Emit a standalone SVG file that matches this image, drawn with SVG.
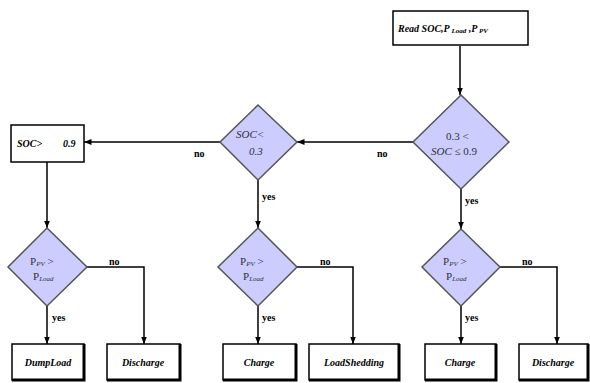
<svg xmlns="http://www.w3.org/2000/svg" width="590" height="383" viewBox="0 0 590 383">
<style>
.box{fill:#fff;stroke:#000;stroke-width:1.5}
.sh{fill:none;stroke:#000;stroke-width:3}
.dia{fill:#ccccff;stroke:#555;stroke-width:1.5}
.ln{fill:none;stroke:#000;stroke-width:1.5}
.lb{font-family:"Liberation Serif","DejaVu Serif",serif;font-weight:bold;font-size:10px;fill:#000}
.bt{font-family:"Liberation Serif","DejaVu Serif",serif;font-weight:bold;font-style:italic;font-size:10px;fill:#000}
.dt{font-family:"Liberation Serif","DejaVu Serif",serif;font-size:11px;fill:#333}
.sub{font-size:7px;font-style:italic}
</style>
<defs>
<marker id="ar" viewBox="0 0 10 10" refX="10" refY="5" markerWidth="5" markerHeight="5" orient="auto">
<path d="M0,1 L10,5 L0,9 Z" fill="#000"/>
</marker>
</defs>
<g id="connectors">
<path class="ln" d="M460,46 V95" marker-end="url(#ar)"/>
<path class="ln" d="M413,142 H297" marker-end="url(#ar)"/>
<path class="ln" d="M220,142 H84" marker-end="url(#ar)"/>
<path class="ln" d="M461,189 V229" marker-end="url(#ar)"/>
<path class="ln" d="M258,180 V228" marker-end="url(#ar)"/>
<path class="ln" d="M47,162 V228" marker-end="url(#ar)"/>
<path class="ln" d="M47,306 V344" marker-end="url(#ar)"/>
<path class="ln" d="M87,267 H144 V344" marker-end="url(#ar)"/>
<path class="ln" d="M258,306 V344" marker-end="url(#ar)"/>
<path class="ln" d="M297,267 H353 V344" marker-end="url(#ar)"/>
<path class="ln" d="M461,306 V344" marker-end="url(#ar)"/>
<path class="ln" d="M500,267 H557 V344" marker-end="url(#ar)"/>
<text class="lb" x="377" y="157">no</text>
<text class="lb" x="194" y="157">no</text>
<text class="lb" x="465" y="204">yes</text>
<text class="lb" x="262" y="200">yes</text>
<text class="lb" x="109" y="265">no</text>
<text class="lb" x="320" y="265">no</text>
<text class="lb" x="522" y="265">no</text>
<text class="lb" x="52" y="321">yes</text>
<text class="lb" x="262" y="321">yes</text>
<text class="lb" x="465" y="321">yes</text>
</g>
<g id="read">
<rect class="box" x="393" y="11" width="135" height="34"/>
<text class="bt" x="398" y="32">Read SOC,P<tspan class="sub" dy="1"> Load</tspan><tspan dy="-1"> ,P</tspan><tspan class="sub" dy="1"> PV</tspan></text>
</g>
<g id="d1">
<polygon class="dia" points="461,95 509,142 461,189 413,142"/>
<text class="dt" x="446" y="140">0.3 &lt;</text>
<text class="dt" x="431" y="155"><tspan font-style="italic">SOC</tspan>  ≤  0.9</text>
</g>
<g id="d2">
<polygon class="dia" points="258,105 297,142 258,180 220,142"/>
<text class="dt" x="236" y="138" font-style="italic">SOC&lt;</text>
<text class="dt" x="249" y="155" font-style="italic">0.3</text>
</g>
<g id="soc09">
<rect class="box" x="11" y="125" width="73" height="37"/>
<text class="bt" x="17" y="147">SOC&gt;</text>
<text class="bt" x="63" y="147">0.9</text>
</g>
<g id="d3">
<polygon class="dia" points="47,228 87,267 47,306 8,267"/>
<text class="dt" x="30" y="265">P<tspan class="sub" dy="1">PV</tspan><tspan dy="-1">   &gt;</tspan></text>
<text class="dt" x="33" y="280">P<tspan class="sub" dy="1">Load</tspan></text>
</g>
<g id="d4">
<polygon class="dia" points="258,228 297,267 258,306 218,267"/>
<text class="dt" x="240" y="265">P<tspan class="sub" dy="1">PV</tspan><tspan dy="-1">   &gt;</tspan></text>
<text class="dt" x="243" y="280">P<tspan class="sub" dy="1">Load</tspan></text>
</g>
<g id="d5">
<polygon class="dia" points="461,229 500,267 461,306 422,267"/>
<text class="dt" x="443" y="265">P<tspan class="sub" dy="1">PV</tspan><tspan dy="-1">   &gt;</tspan></text>
<text class="dt" x="446" y="280">P<tspan class="sub" dy="1">Load</tspan></text>
</g>
<g id="b1">
<rect class="box" x="12" y="344" width="72" height="36"/>
<path class="sh" d="M84,344 V380 H12"/>
<text class="bt" x="48" y="366" text-anchor="middle">DumpLoad</text>
</g>
<g id="b2">
<rect class="box" x="107" y="344" width="73" height="36"/>
<path class="sh" d="M180,344 V380 H107"/>
<text class="bt" x="143" y="366" text-anchor="middle">Discharge</text>
</g>
<g id="b3">
<rect class="box" x="223" y="344" width="73" height="36"/>
<path class="sh" d="M296,344 V380 H223"/>
<text class="bt" x="259" y="366" text-anchor="middle">Charge</text>
</g>
<g id="b4">
<rect class="box" x="309" y="344" width="90" height="36"/>
<path class="sh" d="M399,344 V380 H309"/>
<text class="bt" x="354" y="366" text-anchor="middle">LoadShedding</text>
</g>
<g id="b5">
<rect class="box" x="425" y="344" width="71" height="36"/>
<path class="sh" d="M496,344 V380 H425"/>
<text class="bt" x="460" y="366" text-anchor="middle">Charge</text>
</g>
<g id="b6">
<rect class="box" x="519" y="344" width="69" height="36"/>
<path class="sh" d="M588,344 V380 H519"/>
<text class="bt" x="553" y="366" text-anchor="middle">Discharge</text>
</g>
</svg>
